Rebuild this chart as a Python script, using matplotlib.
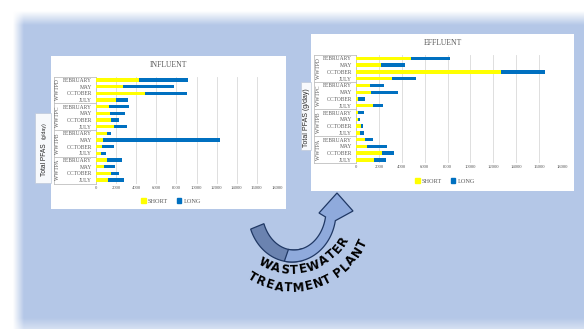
import numpy as np
import matplotlib
matplotlib.use("Agg")
import matplotlib.pyplot as plt
from matplotlib.patches import Rectangle, Polygon, Patch
from matplotlib.colors import to_rgb

# Dane (g/day), od góry: WWTPD, WWTPC, WWTPB, WWTPA
plants = ["WWTPD", "WWTPC", "WWTPB", "WWTPA"]
months = ["FEBRUARY", "MAY", "OCTOBER", "JULY"]
x_ticks = [0, 2000, 4000, 6000, 8000, 10000, 12000, 14000, 16000, 18000]

influent_short = [4270, 2650, 4860, 1950,
                  1320, 1390, 1460, 1790,
                  1060, 660, 600, 530,
                  1060, 830, 1490, 1160]
influent_long = [4830, 5130, 4140, 1190,
                 1920, 1460, 860, 1250,
                 430, 11640, 1150, 430,
                 1490, 1090, 830, 1590]

effluent_short = [4800, 2210, 12710, 3170,
                  1250, 1310, 200, 1510,
                  200, 150, 410, 320,
                  790, 960, 2300, 1570]
effluent_long = [3430, 2060, 3780, 2030,
                 1160, 2350, 560, 820,
                 530, 230, 200, 380,
                 720, 1740, 1040, 1050]

W, H = 584, 329
YELLOW = "#FFFF00"
BLUE = "#0070C0"
GREY = "#595959"
LINE = "#BFBFBF"
SERIF = "Liberation Serif"
SANS = "Liberation Sans"

fig = plt.figure(figsize=(W / 100, H / 100), dpi=100)
fig.patch.set_facecolor("white")

# Tło slajdu
bg = fig.add_axes([0, 0, 1, 1])
yy, xx = np.mgrid[0:H, 0:W] + 0.5


def ramp(v, a, b):
    return np.clip((v - a) / (b - a), 0, 1)


alpha = ramp(xx, 13, 24) * ramp(yy, 11, 25) * (1 - 0.45 * ramp(yy, 318, 329))
img = np.zeros((H, W, 4))
img[..., :3] = to_rgb("#B4C7E7")
img[..., 3] = alpha
bg.imshow(img, extent=(0, W, H, 0), interpolation="bilinear", aspect="auto")
bg.set_xlim(0, W)
bg.set_ylim(H, 0)
bg.axis("off")

# Białe pola wykresów i pola opisu osi
bg.add_patch(Rectangle((51, 56), 235, 153, fc="white", ec="none"))
bg.add_patch(Rectangle((311, 34), 263, 157, fc="white", ec="none"))
bg.add_patch(Rectangle((35, 113), 16, 70, fc="#F7F9FC", ec="#BFC9D9", lw=0.5))
bg.add_patch(Rectangle((301, 82), 10, 68, fc="#F7F9FC", ec="#BFC9D9", lw=0.5))

bg.text(44.5, 176, "Total PFAS", rotation=90, ha="center", va="bottom",
        family=SANS, fontsize=4.8, color="#262626")
bg.text(44, 139, "(g/day)", rotation=90, ha="center", va="bottom",
        family=SANS, fontsize=3.8, color="#262626")
bg.text(306.5, 118, "Total PFAS (g/day)", rotation=90, ha="center", va="center",
        family=SANS, fontsize=5, color="#262626")


def draw_chart(box, short, long, legend_xy, group_x, border_x):
    x0, y0, x1, y1 = box
    ax = fig.add_axes([x0 / W, 1 - y1 / H, (x1 - x0) / W, (y1 - y0) / H])
    pos = np.arange(len(short))
    ax.barh(pos, short, height=0.5, color=YELLOW, zorder=3)
    ax.barh(pos, long, left=short, height=0.5, color=BLUE, zorder=3)
    ax.set_xlim(0, 18000)
    ax.set_ylim(15.5, -0.5)
    ax.set_facecolor("none")
    ax.set_xticks(x_ticks)
    ax.grid(axis="x", color="#D9D9D9", lw=0.6, zorder=0)
    for s in ["top", "right", "bottom"]:
        ax.spines[s].set_visible(False)
    ax.spines["left"].set_color(LINE)
    ax.spines["left"].set_linewidth(0.6)
    ax.set_yticks(pos, labels=months * len(plants))
    ax.tick_params(length=0, colors=GREY)
    ax.tick_params(axis="y", labelsize=4.0, pad=3)
    ax.tick_params(axis="x", labelsize=3.4, pad=1.5)
    for lab in ax.get_xticklabels() + ax.get_yticklabels():
        lab.set_family(SERIF)

    trans = ax.get_yaxis_transform()
    frac = lambda px: (px - x0) / (x1 - x0)
    for g, name in enumerate(plants):
        ax.text(frac(group_x), g * 4 + 1.5, name, rotation=90, ha="center", va="center",
                transform=trans, family=SERIF, fontsize=4.0, color=GREY)
    for b in np.arange(-0.5, 16, 4):
        ax.plot([frac(border_x), 0], [b, b], transform=trans, clip_on=False,
                color=LINE, lw=0.6)
    ax.plot([frac(border_x)] * 2, [-0.5, 15.5], transform=trans, clip_on=False,
            color=LINE, lw=0.6)

    handles = [Patch(color=YELLOW, label="SHORT"), Patch(color=BLUE, label="LONG")]
    ax.legend(handles=handles, loc="center", ncol=2, frameon=False,
              bbox_to_anchor=(legend_xy[0] / W, 1 - legend_xy[1] / H),
              bbox_transform=fig.transFigure, prop={"family": SERIF, "size": 4.5},
              labelcolor=GREY, handlelength=0.7, handleheight=0.7,
              handletextpad=0.3, columnspacing=1.5)
    return ax


ax_in = draw_chart((96, 76.7, 277, 183.5), influent_short, influent_long, (171, 201), 57.5, 54)
ax_ef = draw_chart((356, 55, 562, 163.3), effluent_short, effluent_long, (445, 181), 318, 314)
bg.text(168.5, 65, "INFLUENT", ha="center", va="center", family=SERIF, fontsize=5.5, color=GREY)
bg.text(442.5, 43, "EFFLUENT", ha="center", va="center", family=SERIF, fontsize=5.5, color=GREY)

# Strzałka i napis po łuku
ov = fig.add_axes([0, 0, 1, 1], zorder=5)
ov.set_xlim(0, W)
ov.set_ylim(H, 0)
ov.axis("off")


def arc(c, rx, ry, t0, t1, n=40):
    t = np.radians(np.linspace(t0, t1, n))
    return np.column_stack([c[0] + rx * np.cos(t), c[1] + ry * np.sin(t)])


oc, ic = (292, 212), (294, 210)
dark = np.vstack([arc(oc, 44, 50, 160, 75), arc(ic, 32, 40, 75, 160)])
ov.add_patch(Polygon(dark, closed=True, fc="#6B83B0", ec="#203864", lw=0.9))
head = np.array([[353, 211], [337, 193], [319, 213]])
light = np.vstack([arc(oc, 44, 50, 100, 10), head, arc(ic, 32, 40, 10, 100)])
ov.add_patch(Polygon(light, closed=True, fc="#8FAADC", ec="#203864", lw=0.9))

widths = {"W": .944, "A": .722, "S": .667, "T": .611, "E": .667, "R": .722,
          "M": .833, "N": .722, "P": .667, "L": .611, " ": .278}


def curved_text(s, c, r, t_start, t_end, size):
    w = np.array([widths[ch] for ch in s])
    centers = np.cumsum(w) - w / 2
    centers = (centers - centers[0]) / (centers[-1] - centers[0])
    for ch, f in zip(s, centers):
        th = t_start + (t_end - t_start) * f
        x = c[0] + r * np.cos(np.radians(th))
        y = c[1] + r * np.sin(np.radians(th))
        ov.text(x, y, ch, rotation=90 - th, rotation_mode="anchor", ha="center",
                va="center", family="DejaVu Sans", weight="bold", fontsize=size,
                color="black")


curved_text("WASTEWATER", (292, 210), 60, 117, 31, 8.5)
curved_text("TREATMENT PLANT", (292, 210), 78, 121, 26, 8.5)

fig.savefig("out.png", dpi=100)
